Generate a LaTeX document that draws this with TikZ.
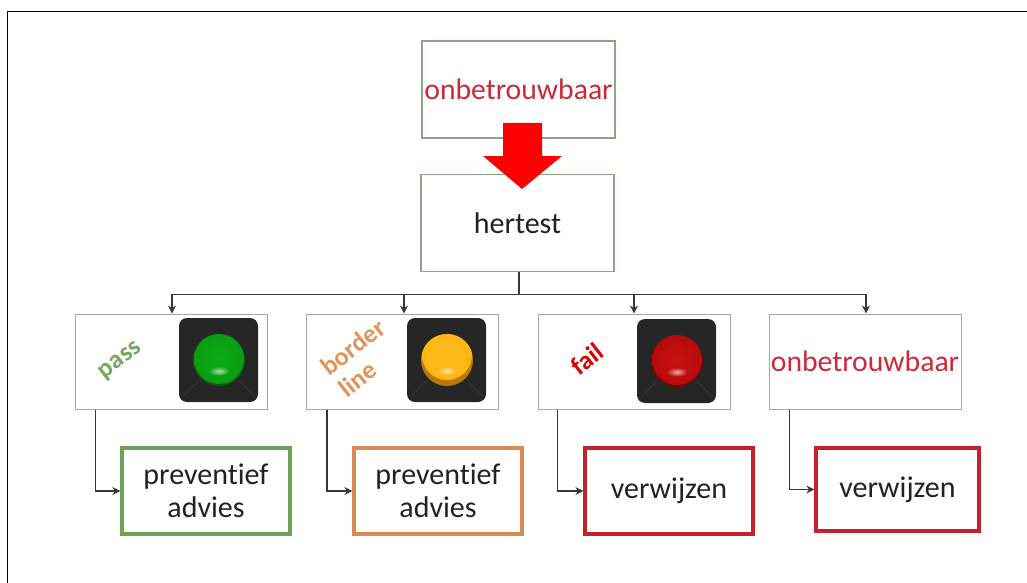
\documentclass[tikz,border=0pt]{standalone}
\usepackage{fontspec}
\setmainfont{Carlito}[Ligatures=NoCommon]
\usetikzlibrary{arrows.meta,calc}
\definecolor{boxgreen}{HTML}{8DA585}
\definecolor{boxgrey}{HTML}{A8A8A8}
\definecolor{txtred}{HTML}{CC2A36}
\definecolor{passgreen}{HTML}{76A85A}
\definecolor{thickgreen}{HTML}{6FA257}
\definecolor{orangetxt}{HTML}{E0955A}
\definecolor{thickorange}{HTML}{D98A50}
\definecolor{thickred}{HTML}{C4202E}
\definecolor{txtdark}{HTML}{222222}
\definecolor{panel}{HTML}{262626}
\definecolor{panelline}{HTML}{3C3C3C}
\definecolor{gbase}{HTML}{0A5A10}
\definecolor{glight}{HTML}{18A81E}
\definecolor{ybase}{HTML}{B87A05}
\definecolor{ylight}{HTML}{FFB81A}
\definecolor{rbase}{HTML}{6A0808}
\definecolor{rlight}{HTML}{C81414}
\pgfdeclareradialshading{gball}{\pgfpoint{0bp}{0bp}}{rgb(0bp)=(0.05,0.68,0.08);rgb(28bp)=(0.04,0.6,0.07);rgb(42bp)=(0.03,0.42,0.06);rgb(50bp)=(0.03,0.28,0.05);rgb(100bp)=(0.03,0.28,0.05)}
\pgfdeclareradialshading{yball}{\pgfpoint{0bp}{0bp}}{rgb(0bp)=(1,0.74,0.12);rgb(36bp)=(1,0.70,0.06);rgb(46bp)=(0.95,0.62,0.04);rgb(50bp)=(0.85,0.55,0.03);rgb(100bp)=(0.85,0.55,0.03)}
\pgfdeclareradialshading{rball}{\pgfpoint{0bp}{0bp}}{rgb(0bp)=(0.8,0.07,0.07);rgb(28bp)=(0.7,0.04,0.04);rgb(42bp)=(0.52,0.02,0.02);rgb(50bp)=(0.36,0.02,0.02);rgb(100bp)=(0.36,0.02,0.02)}
\tikzset{
  x=1pt,y=-1pt,
  topbox/.style={draw=boxgreen,line width=1.2pt,fill=white,inner sep=0pt,minimum width=193pt,minimum height=97pt},
  statebox/.style={draw=boxgrey,line width=1pt,fill=white,inner sep=0pt,minimum width=192pt,minimum height=95pt},
  actbox/.style={fill=white,inner sep=0pt,line width=3.2pt,align=center,text=txtdark,font=\fontsize{30}{33}\selectfont},
  conn/.style={draw=black!78,line width=1.1pt},
  arr/.style={conn,-{Stealth[length=8pt,width=8pt]}},
  rated/.style={font=\bfseries\fontsize{26}{29}\selectfont,rotate=38,align=center},
  panelbox/.style={fill=panel,rounded corners=8pt},
  panelmark/.style={draw=panelline,line width=.7pt},
}
\newcommand{\lamp}[6]{%
  \fill[panelbox] (#1-40,#2-42) rectangle (#1+39,#2+42);
  \draw[panelmark] (#1-36,#2+36) -- (#1-20,#2+20);
  \draw[panelmark] (#1+35,#2+36) -- (#1+20,#2+20);
  \fill[#3] (#1,#2) circle[radius=26];
  \begin{scope}
    \clip (#1,#2) circle[radius=26];
    \shade[shading=#6] (#1,#2-#5) circle[radius=25];
  \end{scope}
  \shade[inner color=white!85!#4,outer color=#4,opacity=.75] (#1,#2+11) ellipse[x radius=10,y radius=4.5];
}
\begin{document}
\begin{tikzpicture}
\useasboundingbox (0,0) rectangle (1027,583);
\fill[white] (0,0) rectangle (1027,583);
\draw[black,line width=1pt] (7.5,583) -- (7.5,11.5) -- (1027,11.5);

\node[topbox,text=txtred,font=\fontsize{29.7}{36}\selectfont] (top) at (518.5,89.5) {onbetrouwbaar};
\node[topbox,text=txtdark,font=\fontsize{30}{36}\selectfont] (hertest) at (517.5,223) {hertest};
\fill[red] (503,123) -- (542,123) -- (542,156) -- (562,156) -- (522,189) -- (483,156) -- (503,156) -- cycle;

\node[statebox] (pass) at (171,361.5) {};
\node[statebox] (border) at (402.5,361.5) {};
\node[statebox] (fail) at (634,361.5) {};
\node[statebox,text=txtred,font=\fontsize{29.7}{36}\selectfont] (onb) at (865,361.5) {onbetrouwbaar};

\lamp{219}{360}{gbase}{glight}{1}{gball}
\lamp{447}{360}{ybase}{ylight}{5}{yball}
\lamp{677}{361}{rbase}{rlight}{1}{rball}

\node[rated,text=passgreen] (passlabel) at (121,361) {pass};
\node[rated,text=orangetxt] (borderlabel) at (353,347) {border};
\node[rated,text=orangetxt] (linelabel) at (358,379) {line};
\node[rated,text=red!85!black] (faillabel) at (587,359) {fail};

\node[actbox,draw=thickgreen,minimum width=168pt,minimum height=86pt] (a1) at (206,491) {preventief\\advies};
\node[actbox,draw=thickorange,minimum width=168pt,minimum height=86pt] (a2) at (438,491) {preventief\\advies};
\node[actbox,draw=thickred,minimum width=168pt,minimum height=86pt] (a3) at (669,491) {verwijzen};
\node[actbox,draw=thickred,minimum width=163pt,minimum height=83pt] (a4) at (897.5,489.5) {verwijzen};

\coordinate (bus) at (519,294.5);
\draw[conn] ([xshift=1.5pt]hertest.south) -- (bus);
\draw[arr] (bus) -| ([xshift=1pt]pass.north);
\draw[arr] (bus) -| ([xshift=1.5pt]border.north);
\draw[arr] (bus) -| (fail.north);
\draw[arr] (bus) -| ([xshift=1pt]onb.north);
\draw[arr] ([xshift=21pt]pass.south west) |- (a1.west);
\draw[arr] ([xshift=21pt]border.south west) |- (a2.west);
\draw[arr] ([xshift=20pt]fail.south west) |- (a3.west);
\draw[arr] ([xshift=21pt]onb.south west) |- (a4.west);
\end{tikzpicture}
\end{document}
